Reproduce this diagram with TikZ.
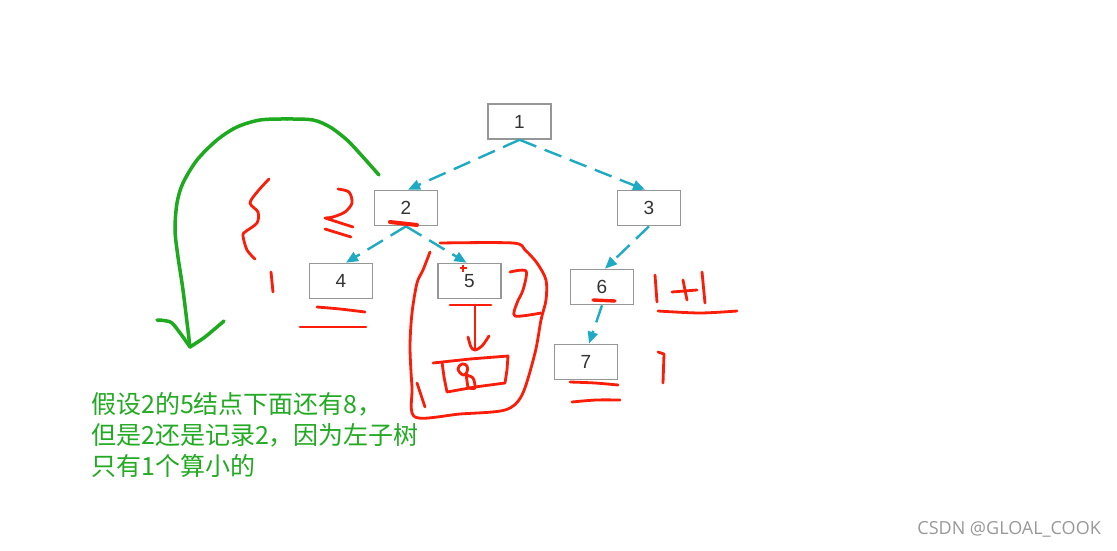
\documentclass[tikz,border=0pt]{standalone}
\usepackage{fontspec}
\setmainfont{Liberation Sans}
\newfontfamily\cjk{Noto Sans CJK SC}
\newfontfamily\wmfont{Open Sans}
\usetikzlibrary{arrows.meta}
\definecolor{boxgray}{RGB}{150,150,150}
\definecolor{tealedge}{RGB}{30,170,195}
\definecolor{penred}{RGB}{250,30,10}
\definecolor{pengreen}{RGB}{30,170,30}
\definecolor{txtgreen}{RGB}{35,170,35}
\begin{document}
\begin{tikzpicture}[x=1pt,y=-1pt,
  treenode/.style={draw=boxgray, line width=1.6pt, minimum width=63pt, minimum height=35pt, inner sep=0pt, font=\fontsize{19}{19}\selectfont, text=black!80},
  edge/.style={tealedge, line width=2.4pt, dash pattern=on 18pt off 9pt, -{Triangle[length=12pt,width=10pt]}},
  redpen/.style={penred, line width=2.8pt, line cap=round, line join=round},
  greenpen/.style={pengreen, line width=3.5pt, line cap=round, line join=round}]
\fill[white] (0,0) rectangle (1117,551);
\useasboundingbox (0,0) rectangle (1117,551);

% tree
\node[treenode] (n1) at (519.5,121.5) {1};
\node[treenode] (n2) at (406,208) {2};
\node[treenode] (n3) at (649,208) {3};
\node[treenode] (n4) at (341,281) {4};
\node[treenode] (n5) at (469.5,281) {5};
\node[treenode] (n6) at (602,287) {6};
\node[treenode] (n7) at (586,362) {7};

\draw[edge] (n1.south) -- ([xshift=2pt]n2.north);
\draw[edge] (n1.south) -- ([xshift=-4pt]n3.north);
\draw[edge] (n2.south) -- ([xshift=5pt]n4.north);
\draw[edge] (n2.south) -- ([xshift=-3pt]n5.north);
\draw[edge] (n3.south) -- ([xshift=3pt]n6.north);
\draw[edge] (n6.south) -- ([xshift=3pt]n7.north);

% green arrow
\draw[greenpen] plot[smooth, tension=0.5] coordinates {(379,175) (363,157) (347,140) (330,127) (313,120) (287,119) (260,120) (237,127) (217,140) (197,160) (183,183) (177,203) (175,230) (178,257) (183,290) (190,347)};
\draw[greenpen] plot[smooth, tension=0.4] coordinates {(157,320) (172,323) (190,347)};
\draw[greenpen] plot[smooth, tension=0.4] coordinates {(190,347) (205,337) (224,321)};

% red scribbles
\draw[redpen] plot[smooth, tension=0.5] coordinates {(269,179) (258,191) (250,203) (258,212) (257,223) (245,232) (243,236) (247,250) (255,259)};
\draw[redpen] (271,272) -- (273,292);
\draw[redpen] plot[smooth, tension=0.5] coordinates {(338,189) (349,192) (352,203) (345,212) (333,217) (325,218)} -- (353,227);
\draw[redpen] (325,229) -- (351,237);
\draw[redpen, line width=4pt] (390,222) -- (417,225);
\draw[redpen] plot[smooth] coordinates {(317,307) (340,309) (365,312)};
\draw[redpen] (300,327) -- (366,327);
\draw[penred, line width=1.4pt] (459.5,268) -- (466.5,268) (463,264.5) -- (463,271.5);
\draw[redpen] (450,305) -- (491,305);
\draw[redpen] (475,305) -- (475,350);
\draw[redpen] plot[smooth, tension=0.5] coordinates {(468,337) (471,347) (475,350) (482,346) (489,336)};
\draw[redpen] (433,363) -- (470,359) -- (508,356) -- (507,370) -- (505,383) -- (475,387) -- (447,392) -- (444,377) -- (442,362);
\draw[redpen] plot[smooth cycle, tension=0.7] coordinates {(463,375) (458,369) (462,364) (467,366) (467,372)};
\draw[redpen] (466,374) -- (468,388);
\draw[redpen] plot[smooth, tension=0.5] coordinates {(466,375) (473,378) (475,388) (469,388)};
\draw[redpen] plot[smooth, tension=0.5] coordinates {(430,252) (423,270) (417,283) (412,313) (410,347) (412,387) (415,417) (460,414) (505,410) (522,395) (535,353) (541,320) (546,300) (546,280) (537,263) (525,250) (513,243) (440,243)};
\draw[redpen] (417,383) -- (425,407);
\draw[redpen] plot[smooth, tension=0.5] coordinates {(510,272) (526,271) (523,290) (517,303) (515,316) (541,313)};
\draw[redpen, line width=3.4pt] (593,300) -- (615,301);
\draw[redpen] (655,275) -- (657,302);
\draw[redpen] (672,292) -- (697,290);
\draw[redpen] (683,280) -- (687,300);
\draw[redpen] (702,272) -- (705,303);
\draw[redpen] plot[smooth] coordinates {(658,311) (700,313) (737,311)};
\draw[redpen] (658,352) -- (664,354) -- (663,383);
\draw[redpen] plot[smooth] coordinates {(570,382) (595,383) (618,385)};
\draw[redpen] plot[smooth] coordinates {(572,402) (596,400) (620,400)};

% note text
\node[anchor=west, text=txtgreen, font=\cjk\fontsize{25}{31}\selectfont, align=left, inner sep=0pt] (note) at (91,435) {假设2的5结点下面还有8，\\但是2还是记录2，因为左子树\\只有1个算小的};

% watermark
\node[anchor=east, text=black!40, font=\wmfont\fontsize{18}{18}\selectfont, inner sep=0pt] (wm) at (1101,529) {CSDN @GLOAL\_COOK};
\end{tikzpicture}
\end{document}
